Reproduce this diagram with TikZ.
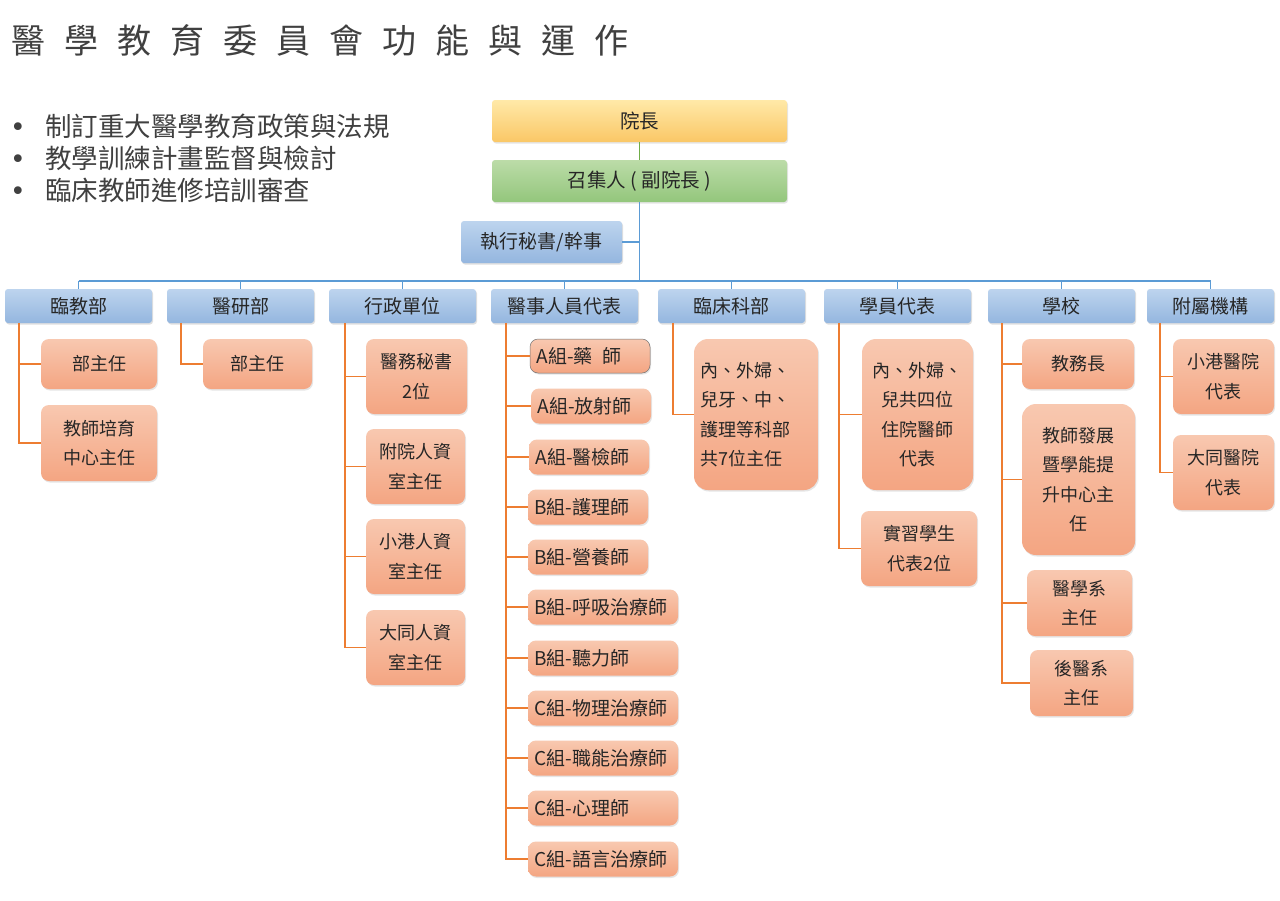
\documentclass[tikz,border=0pt]{standalone}
\usepackage{fontspec}
\setmainfont{Noto Sans CJK TC}
\newfontfamily\bulfont{DejaVu Sans}
\usetikzlibrary{shadows}
\definecolor{bla}{HTML}{BDD4EE}
\definecolor{blb}{HTML}{94B6DF}
\definecolor{ora}{HTML}{F8C8B0}
\definecolor{orb}{HTML}{F4A582}
\definecolor{yea}{HTML}{FFE9A8}
\definecolor{yeb}{HTML}{FAC766}
\definecolor{gra}{HTML}{BCDCA8}
\definecolor{grb}{HTML}{93C67C}
\definecolor{blline}{HTML}{5B9BD5}
\definecolor{orline}{HTML}{ED7D31}
\definecolor{grline}{HTML}{70AD47}
\definecolor{txt}{HTML}{262626}
\definecolor{ttl}{HTML}{404040}
\newcommand{\tsp}{\hspace{19pt}}
\begin{document}
\begin{tikzpicture}[x=1pt,y=-1pt,
  basebox/.style={inner sep=0pt, align=center, text=txt, font=\fontsize{18}{29.5}\selectfont},
  topbox/.style={basebox, rounded corners=3pt, top color=bla, bottom color=blb, minimum width=147pt, minimum height=34pt, font=\fontsize{19}{24}\selectfont, drop shadow={shadow xshift=1pt, shadow yshift=-1.5pt, opacity=0.25}},
  orbox/.style={basebox, rounded corners=8pt, top color=ora, bottom color=orb, drop shadow={shadow xshift=1pt, shadow yshift=-1.5pt, opacity=0.2}},
  rowbox/.style={orbox, align=left, inner xsep=6.5pt, minimum height=35pt, font=\fontsize{19}{24}\selectfont},
  shortrow/.style={rowbox, minimum width=120pt, text width=107pt},
  longrow/.style={rowbox, minimum width=150pt, text width=137pt},
  bigbox/.style={orbox, rounded corners=14pt},
  bline/.style={draw=blline, line width=1.3pt},
  oline/.style={draw=orline, line width=1.3pt},
  gline/.style={draw=grline, line width=1.3pt}
]
\fill[white] (0,0) rectangle (1280,900);
\useasboundingbox (0,0) rectangle (1280,900);

% title
\node[anchor=west, inner sep=0pt, text=ttl, font=\fontsize{34}{40}\selectfont] (title) at (11,40)
 {醫\tsp 學\tsp 教\tsp 育\tsp 委\tsp 員\tsp 會\tsp 功\tsp 能\tsp 與\tsp 運\tsp 作};

% bullets
\foreach \n/\yy/\tx in {1/126/制訂重大醫學教育政策與法規, 2/158/教學訓練計畫監督與檢討, 3/190/臨床教師進修培訓審查}{
  \node[anchor=west, inner sep=0pt, text=ttl, font=\fontsize{26.5}{30}\selectfont] (bl\n) at (10,\yy)
   {\makebox[35pt][l]{\bulfont •}\tx};
}

% top chain
\node[basebox, rounded corners=3pt, top color=yea, bottom color=yeb, minimum width=295pt, minimum height=42pt,
  font=\fontsize{19.5}{24}\selectfont,
  drop shadow={shadow xshift=1pt, shadow yshift=-1.5pt, opacity=0.2}] (yz) at (639.5,121) {院長};
\node[basebox, rounded corners=3pt, top color=gra, bottom color=grb, minimum width=295pt, minimum height=42pt,
  font=\fontsize{19.5}{24}\selectfont,
  drop shadow={shadow xshift=1pt, shadow yshift=-1.5pt, opacity=0.2}] (zh) at (639.5,181) {召集人 ( 副院長 )};
\node[topbox, minimum width=161pt, minimum height=42pt] (sec) at (541.5,242) {執行秘書/幹事};

% top-level units
\node[topbox] (p1) at (78.5,306) {臨教部};
\node[topbox] (p2) at (240.5,306) {醫研部};
\node[topbox] (p3) at (402.5,306) {行政單位};
\node[topbox] (p4) at (564.5,306) {醫事人員代表};
\node[topbox] (p5) at (731.5,306) {臨床科部};
\node[topbox] (p6) at (897.5,306) {學員代表};
\node[topbox] (p7) at (1061.5,306) {學校};
\node[topbox, minimum width=127pt] (p8) at (1210.5,306) {附屬機構};

% blue connectors
\draw[gline] (yz.south) -- (zh.north);
\coordinate (busL) at (78.5,281);
\coordinate (busR) at (1210.5,281);
\coordinate (busM) at (639.5,281);
\draw[bline] (zh.south) -- (busM);
\draw[bline] (sec.east) -- (sec.east -| zh.south);
\draw[bline] (busL) -- (busR);
\foreach \p in {p1,p2,p3,p4,p5,p6,p7,p8}{
  \draw[bline] (\p.north) -- (\p.north |- busL);
}

% children of 臨教部
\node[orbox, minimum width=116pt, minimum height=50pt] (c11) at (99,364) {部主任};
\node[orbox, minimum width=116pt, minimum height=76pt] (c12) at (99,443) {教師培育\\中心主任};
% 醫研部
\node[orbox, minimum width=109pt, minimum height=50pt] (c21) at (257.5,364) {部主任};
% 行政單位
\node[orbox, minimum width=101pt, minimum height=75pt] (c31) at (416.5,376.5) {醫務秘書\\2位};
\node[orbox, minimum width=99pt, minimum height=75pt] (c32) at (415.5,466.5) {附院人資\\室主任};
\node[orbox, minimum width=99pt, minimum height=75pt] (c33) at (415.5,556.5) {小港人資\\室主任};
\node[orbox, minimum width=99pt, minimum height=75pt] (c34) at (415.5,647.5) {大同人資\\室主任};
% 醫事人員代表
\node[shortrow, minimum height=34pt, draw=black!55, line width=0.5pt] (c41) at (590,356) {A組-藥\hspace{10pt}師};
\node[shortrow] (c42) at (591,406) {A組-放射師};
\node[shortrow] (c43) at (589,457) {A組-醫檢師};
\node[shortrow] (c44) at (588,507) {B組-護理師};
\node[shortrow] (c45) at (588,557) {B組-營養師};
\node[longrow] (c46) at (603,607) {B組-呼吸治療師};
\node[longrow] (c47) at (603,658) {B組-聽力師};
\node[longrow] (c48) at (603,708) {C組-物理治療師};
\node[longrow] (c49) at (603,758) {C組-職能治療師};
\node[longrow] (c410) at (603,808) {C組-心理師};
\node[longrow] (c411) at (603,859) {C組-語言治療師};
% 臨床科部
\node[bigbox, minimum width=124pt, minimum height=151pt, align=left, text width=111pt] (c51) at (756,414.5)
 {內、外婦、\\兒牙、中、\\護理等科部\\共7位主任};
% 學員代表
\node[bigbox, minimum width=111pt, minimum height=151pt] (c61) at (917.5,414.5)
 {內、外婦、\\兒共四位\\住院醫師\\代表};
\node[orbox, minimum width=116pt, minimum height=75pt] (c62) at (919,548.5) {實習學生\\代表2位};
% 學校
\node[orbox, minimum width=112pt, minimum height=50pt] (c71) at (1078,364) {教務長};
\node[bigbox, minimum width=113pt, minimum height=151pt] (c72) at (1078.5,479.5)
 {教師發展\\暨學能提\\升中心主\\任};
\node[orbox, minimum width=105pt, minimum height=66pt] (c73) at (1079.5,603) {醫學系\\主任};
\node[orbox, minimum width=103pt, minimum height=66pt] (c74) at (1081.5,683) {後醫系\\主任};
% 附屬機構
\node[orbox, minimum width=101pt, minimum height=75pt] (c81) at (1223.5,376.5) {小港醫院\\代表};
\node[orbox, minimum width=101pt, minimum height=75pt] (c82) at (1223.5,472.5) {大同醫院\\代表};

% orange connectors
\coordinate (v1) at (19,323);
\coordinate (v2) at (181,323);
\coordinate (v3) at (345,323);
\coordinate (v4) at (506,323);
\coordinate (v5) at (673,323);
\coordinate (v6) at (839,323);
\coordinate (v7) at (1002,323);
\coordinate (v8) at (1160,323);
\foreach \v/\c in {v1/c11, v1/c12, v2/c21, v3/c31, v3/c32, v3/c33, v3/c34,
  v4/c41, v4/c42, v4/c43, v4/c44, v4/c45, v4/c46, v4/c47, v4/c48, v4/c49, v4/c410, v4/c411,
  v5/c51, v6/c61, v6/c62, v7/c71, v7/c72, v7/c73, v7/c74, v8/c81, v8/c82}{
  \draw[oline] (\v) |- (\c.west);
}
\end{tikzpicture}
\end{document}
